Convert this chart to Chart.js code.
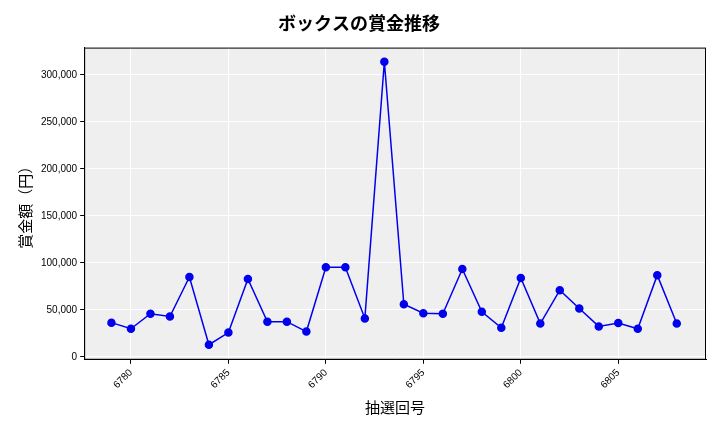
<!DOCTYPE html>
<html lang="ja">
<head>
<meta charset="UTF-8">
<script src="https://cdn.jsdelivr.net/npm/chart.js"></script>
<style>
  body { margin: 0; background: #fff; font-family: 'Noto Sans CJK JP', sans-serif; }
  #wrap { width: 720px; height: 432px; position: relative; }
</style>
</head>
<body>
<div id="wrap"><canvas id="c"></canvas></div>
<script>
const draws = [6779,6780,6781,6782,6783,6784,6785,6786,6787,6788,6789,6790,6791,6792,6793,6794,6795,6796,6797,6798,6799,6800,6801,6802,6803,6804,6805,6806,6807,6808];
const prizes = [36500,30000,46000,43000,85000,13000,26000,83000,37500,37500,27000,95500,95500,41000,314000,56000,46500,46000,93500,48000,31000,84000,35500,71000,51500,32500,36000,30000,87000,35500];

const bgPlugin = {
  id: 'bg',
  beforeDraw(chart) {
    const a = chart.chartArea, ctx = chart.ctx;
    ctx.save();
    ctx.fillStyle = '#efefef';
    ctx.fillRect(a.left, a.top, a.right - a.left, a.bottom - a.top);
    ctx.restore();
  },
  afterDraw(chart) {
    const a = chart.chartArea, ctx = chart.ctx;
    ctx.save();
    ctx.strokeStyle = '#000';
    ctx.lineWidth = 1;
    ctx.strokeRect(a.left + 0.5, a.top + 0.5, a.right - a.left - 1, a.bottom - a.top - 1);
    ctx.restore();
  }
};

new Chart(document.getElementById('c'), {
  type: 'line',
  data: {
    datasets: [{
      data: draws.map((d, i) => ({ x: d, y: prizes[i] })),
      borderColor: '#0000ee',
      backgroundColor: '#0000ee',
      borderWidth: 1.5,
      pointRadius: 3.5,
      tension: 0
    }]
  },
  options: {
    responsive: true,
    maintainAspectRatio: false,
    animation: false,
    layout: { padding: { left: 12, right: 14, top: 10, bottom: 12 } },
    plugins: {
      legend: { display: false },
      title: { display: true, text: 'ボックスの賞金推移', color: '#000',
        font: { size: 18, weight: 'bold', family: 'Noto Sans CJK JP' }, padding: { top: 2, bottom: 14 } }
    },
    scales: {
      x: {
        type: 'linear', min: 6777.6, max: 6809.5,
        grid: { color: '#ffffff', drawTicks: true, tickColor: '#000', tickLength: 4 },
        border: { color: '#000' },
        ticks: { stepSize: 5, color: '#000', maxRotation: 45, minRotation: 45,
          font: { size: 10 }, callback: v => String(v) },
        afterBuildTicks: s => { s.ticks = [6780,6785,6790,6795,6800,6805].map(v => ({ value: v })); },
        title: { display: true, text: '抽選回号', color: '#000', font: { size: 15, family: 'Noto Sans CJK JP' } }
      },
      y: {
        min: -3000, max: 329000,
        grid: { color: '#ffffff', tickColor: '#000', tickLength: 4 },
        border: { color: '#000' },
        ticks: { stepSize: 50000, color: '#000', font: { size: 10 },
          callback: v => v.toLocaleString('en-US') },
        afterBuildTicks: s => { s.ticks = [0,50000,100000,150000,200000,250000,300000].map(v => ({ value: v })); },
        title: { display: true, text: '賞金額（円）', color: '#000', font: { size: 15, family: 'Noto Sans CJK JP' } }
      }
    }
  },
  plugins: [bgPlugin]
});
</script>
</body>
</html>
